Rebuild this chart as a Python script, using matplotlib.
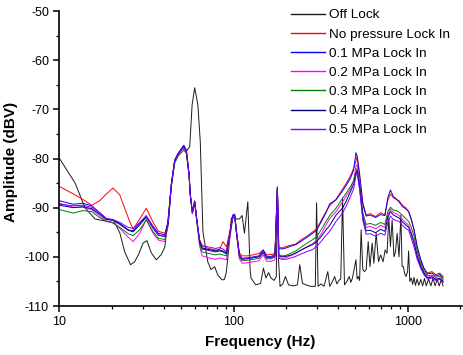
import matplotlib; matplotlib.use("Agg")
import matplotlib.pyplot as plt
from matplotlib.ticker import MultipleLocator, LogLocator, NullFormatter, FuncFormatter

plt.rcParams["font.family"] = ["Liberation Sans", "DejaVu Sans"]
plt.rcParams["axes.unicode_minus"] = False

# Off Lock spectrum (Hz, dBV)
F_OFF = [10, 12.3, 14.0, 16.0, 18.2, 20.8, 22.2, 23.7, 25.6, 27.0,
         28.5, 30.2, 31.8, 33.7, 36.0, 38.5, 40.3, 42.1, 43.9, 45.9,
         47.9, 50.1, 51.8, 53.6, 56.0, 57.8, 59.8, 62.4, 64.4, 66.7,
         71.1, 74.2, 77.9, 81.2, 86.0, 88.5, 90.7, 94.0, 97.1, 100.3,
         103.5, 108, 112, 115.5, 120.8, 124.5, 126, 134, 143, 148.5,
         153.5, 159, 164, 171, 176, 178.6, 181, 185, 192, 198.6,
         207, 220, 233, 240, 249, 265, 278, 295, 300, 306,
         318, 331, 348, 357, 368, 381, 392, 405, 413, 423,
         434, 448, 462, 472, 482, 505, 513, 521, 530, 541,
         553, 566, 578, 594, 608, 626, 640, 660, 681, 700,
         723, 743, 762, 780, 797, 815, 835, 852, 871, 893,
         915, 930, 946, 963, 980, 1000, 1014, 1030, 1050, 1070,
         1089, 1110, 1135, 1160, 1191, 1220, 1250, 1280, 1320, 1360,
         1400, 1440, 1480, 1520, 1560, 1600]
A_OFF = [-80.0, -85.0, -90.0, -92.3, -92.7, -93.1, -95.1, -99.0, -101.6, -101.0,
         -99.5, -97.2, -96.7, -99.2, -100.6, -99.5, -98.0, -92.1, -85.4, -80.6,
         -79.3, -78.3, -77.6, -78.5, -77.6, -69.1, -65.6, -69.1, -76.6, -94.9,
         -101.0, -102.6, -102.0, -103.7, -104.7, -104.6, -103.3, -98.2, -92.1, -91.8,
         -92.3, -92.3, -91.6, -95.2, -88.8, -102.6, -104.3, -105.7, -105.4, -102.3,
         -104.3, -103.2, -104.3, -104.8, -104.0, -85.8, -100.0, -106.0, -105.5, -104.0,
         -105.7, -105.9, -105.7, -101.6, -105.4, -105.8, -106.0, -106.0, -89.0, -106.0,
         -105.5, -106.0, -103.0, -106.0, -105.2, -104.0, -105.5, -104.7, -104.5, -88.0,
         -105.7, -105.0, -104.0, -105.2, -104.3, -100.6, -104.5, -104.0, -104.8, -94.5,
         -102.6, -103.0, -102.6, -96.9, -102.0, -97.2, -101.3, -95.2, -101.0, -99.6,
         -101.0, -98.6, -99.3, -92.1, -97.9, -92.5, -100.0, -99.0, -95.2, -100.0,
         -91.5, -102.0, -102.0, -103.5, -104.0, -103.0, -98.8, -105.0, -104.3, -105.6,
         -104.2, -105.8, -104.5, -105.8, -104.6, -105.9, -104.4, -105.9, -104.5, -105.9,
         -104.4, -105.9, -104.6, -105.9, -104.7, -105.9]

# Lock In spectra share one frequency grid
F_LOCK = [10, 12, 13.6, 15.3, 17, 18.6, 20.3, 22.2, 24.8, 26.5,
          28.9, 31.5, 34.5, 37, 40.3, 42.1, 43.9, 45.9, 47.9, 50.1,
          51.8, 53.6, 55.5, 56.4, 58, 59.8, 61.6, 63.8, 66, 72,
          79, 83, 87, 91, 95, 99, 101.5, 104, 108, 112,
          120, 130, 140, 148, 155, 165, 173, 178.6, 182, 190,
          200, 215, 228, 245, 265, 285, 300, 320, 340, 357,
          388, 423, 445, 470, 490, 505, 513, 530, 553, 578,
          610, 655, 700, 740, 770, 797, 830, 860, 893, 935,
          975, 1014, 1050, 1089, 1135, 1191, 1240, 1300, 1380, 1450,
          1530, 1600]
A_NOP = [-85.7, -87.2, -88.3, -89.5, -88.6, -87.2, -86.0, -87.4, -92.0, -94.4,
         -92.3, -90.1, -93.0, -94.8, -95.2, -93.0, -85.5, -80.6, -79.4, -78.4,
         -78.0, -78.8, -83.3, -87.2, -90.8, -88.9, -92.6, -96.5, -97.8, -98.3,
         -98.6, -98.5, -96.9, -98.0, -95.0, -91.8, -91.6, -95.0, -99.2, -99.8,
         -99.8, -99.6, -99.3, -98.6, -99.6, -99.5, -99.3, -86.0, -98.0, -98.2,
         -97.9, -97.6, -97.4, -96.5, -95.8, -94.9, -94.3, -92.5, -90.8, -89.6,
         -88.3, -86.2, -85.0, -83.5, -82.0, -80.5, -79.6, -83.0, -89.0, -91.5,
         -91.2, -91.8, -91.0, -91.5, -88.5, -87.2, -88.0, -88.3, -88.6, -89.5,
         -90.0, -90.8, -92.5, -94.5, -98.0, -100.8, -102.3, -103.3, -103.0, -103.6,
         -103.3, -104.0]
A_01 = [-88.6, -89.3, -89.1, -89.6, -91.0, -92.3, -92.5, -93.2, -94.5, -94.7,
        -93.2, -91.8, -93.8, -95.2, -95.5, -92.8, -85.2, -80.3, -79.0, -78.0,
        -77.3, -78.3, -83.0, -87.2, -91.0, -88.6, -92.6, -96.8, -98.4, -98.7,
        -99.0, -98.8, -99.0, -99.4, -95.5, -91.5, -91.3, -94.8, -99.5, -100.3,
        -100.2, -100.0, -99.8, -98.6, -99.9, -99.9, -99.5, -85.8, -98.3, -98.4,
        -98.2, -97.8, -97.5, -96.8, -96.0, -95.2, -94.6, -92.8, -91.0, -89.2,
        -88.4, -86.6, -85.4, -84.0, -82.3, -78.8, -79.5, -83.5, -89.3, -91.7,
        -91.5, -92.0, -91.4, -91.6, -88.0, -86.4, -87.8, -88.2, -88.8, -89.8,
        -90.2, -90.8, -92.3, -94.5, -97.9, -100.6, -102.3, -103.5, -103.3, -103.9,
        -103.6, -104.3]
A_02 = [-89.1, -89.9, -89.9, -90.4, -91.6, -92.8, -93.1, -94.2, -96.0, -96.9,
        -95.2, -92.4, -95.2, -96.6, -96.9, -93.6, -85.6, -80.5, -79.2, -78.3,
        -77.8, -78.8, -83.4, -87.4, -91.2, -88.9, -93.0, -97.8, -99.8, -100.2,
        -100.5, -100.2, -100.4, -100.6, -96.3, -92.2, -91.9, -95.5, -100.4, -101.3,
        -101.2, -101.0, -100.8, -99.6, -100.9, -100.9, -100.6, -86.3, -100.2, -100.3,
        -100.2, -99.7, -99.3, -98.6, -97.9, -97.3, -96.6, -95.3, -93.5, -92.2,
        -90.8, -88.8, -87.6, -86.2, -84.5, -81.6, -81.2, -84.6, -91.4, -94.0,
        -93.8, -94.3, -93.6, -94.0, -91.5, -90.3, -91.0, -91.2, -91.6, -92.4,
        -93.0, -93.6, -95.0, -96.8, -99.6, -101.8, -103.2, -104.2, -104.0, -104.5,
        -104.3, -104.9]
A_03 = [-90.4, -91.1, -90.6, -90.8, -92.0, -92.7, -93.1, -94.0, -95.3, -95.7,
        -94.5, -92.5, -94.9, -96.2, -96.5, -93.5, -85.8, -81.0, -79.6, -78.8,
        -78.3, -79.0, -83.5, -87.5, -91.2, -89.0, -93.0, -97.3, -99.0, -99.3,
        -99.6, -99.4, -99.6, -99.8, -96.0, -92.0, -91.8, -95.2, -100.0, -100.8,
        -100.7, -100.5, -100.3, -99.2, -100.4, -100.4, -100.0, -86.2, -99.6, -99.8,
        -99.7, -99.2, -98.8, -98.0, -97.2, -96.5, -95.9, -94.4, -92.8, -91.6,
        -90.1, -88.1, -87.0, -85.7, -84.5, -82.7, -82.0, -85.0, -91.0, -93.4,
        -93.2, -93.6, -93.0, -93.4, -90.8, -89.9, -90.5, -90.6, -90.9, -91.6,
        -92.2, -92.8, -94.0, -95.8, -98.8, -101.3, -102.8, -103.9, -103.7, -104.2,
        -103.9, -104.6]
A_04 = [-89.5, -90.0, -89.8, -90.2, -91.3, -92.4, -92.6, -93.4, -94.6, -94.9,
        -93.5, -91.9, -94.2, -95.6, -95.9, -93.0, -85.3, -80.4, -79.1, -78.1,
        -77.5, -78.5, -83.1, -87.2, -91.0, -88.7, -92.7, -96.9, -98.2, -98.5,
        -98.8, -98.6, -98.8, -99.2, -95.5, -91.7, -91.5, -95.0, -99.7, -100.5,
        -100.4, -100.2, -100.0, -99.0, -100.2, -100.1, -99.8, -86.0, -99.8, -100.0,
        -99.9, -99.6, -99.2, -98.6, -98.0, -97.5, -96.9, -95.8, -94.5, -93.6,
        -91.5, -90.1, -88.6, -86.7, -85.3, -83.0, -82.6, -85.8, -92.0, -94.7,
        -94.6, -95.1, -94.4, -94.8, -92.0, -90.8, -91.5, -91.8, -92.1, -92.9,
        -93.5, -94.0, -95.4, -97.2, -99.9, -102.0, -103.3, -104.3, -104.1, -104.6,
        -104.4, -105.0]
A_05 = [-89.3, -89.6, -89.5, -89.9, -91.0, -92.2, -92.4, -93.0, -94.0, -94.2,
        -93.0, -91.6, -93.9, -95.5, -95.8, -93.0, -85.4, -80.5, -79.2, -78.2,
        -77.6, -78.6, -83.2, -87.3, -91.1, -88.8, -92.7, -96.5, -97.7, -98.0,
        -98.3, -98.1, -98.4, -98.9, -95.3, -91.8, -91.6, -95.1, -99.6, -100.4,
        -100.3, -100.1, -99.9, -99.0, -100.2, -100.2, -99.9, -86.0, -100.3, -100.5,
        -100.5, -100.2, -99.9, -99.4, -98.9, -98.5, -97.9, -96.8, -95.6, -94.8,
        -92.8, -91.1, -89.6, -87.7, -86.2, -83.4, -83.0, -86.3, -92.6, -95.4,
        -95.3, -95.8, -95.2, -95.6, -93.0, -91.7, -92.4, -92.6, -92.8, -93.6,
        -94.2, -94.6, -96.2, -98.0, -100.5, -102.4, -103.6, -104.5, -104.3, -104.8,
        -104.6, -105.2]

LABELS = ["Off Lock", "No pressure Lock In", "0.1 MPa Lock In", "0.2 MPa Lock In",
          "0.3 MPa Lock In", "0.4 MPa Lock In", "0.5 MPa Lock In"]
COLORS = ["#1a1a1a", "#ff0000", "#0000ff", "#ff00ff", "#008000", "#000080", "#8000ff"]

fig = plt.figure(figsize=(4.63, 3.55), dpi=100)
ax = fig.add_axes([0.1285, 0.138, 0.869, 0.831])

ax.plot(F_OFF, A_OFF, color=COLORS[0], lw=0.7, label=LABELS[0])
for ys, lab, col in zip([A_NOP, A_01, A_02, A_03, A_04, A_05], LABELS[1:], COLORS[1:]):
    ax.plot(F_LOCK, ys, color=col, lw=0.7, label=lab)

ax.set_xscale("log")
ax.set_xlim(10, 2050); ax.set_ylim(-110, -50)
ax.yaxis.set_major_locator(MultipleLocator(10)); ax.yaxis.set_minor_locator(MultipleLocator(5))
ax.xaxis.set_major_locator(LogLocator(base=10))
ax.xaxis.set_minor_locator(LogLocator(base=10, subs=range(2, 10)))
ax.xaxis.set_major_formatter(FuncFormatter(lambda v, _: f"{v:g}"))
ax.xaxis.set_minor_formatter(NullFormatter())
for s in ("top", "right"): ax.spines[s].set_visible(False)
for s in ("left", "bottom"): ax.spines[s].set_linewidth(1.2)
ax.tick_params(which="major", direction="out", length=4, width=1.1, labelsize=9)
ax.tick_params(which="minor", direction="out", length=2.5, width=0.9)

ax.set_xlabel("Frequency (Hz)", fontsize=11, fontweight="bold")
ax.set_ylabel("Amplitude (dBV)", fontsize=11, fontweight="bold")
ax.xaxis.set_label_coords(0.5, -0.098)
ax.yaxis.set_label_coords(-0.104, 0.49)

leg = ax.legend(loc="upper right", bbox_to_anchor=(0.985, 1.025), frameon=False, fontsize=9.7,
                handlelength=2.5, handletextpad=0.35, labelspacing=0.5, borderaxespad=0)
for h in leg.get_lines(): h.set_linewidth(1.0)

fig.savefig("out.png", dpi=100)
